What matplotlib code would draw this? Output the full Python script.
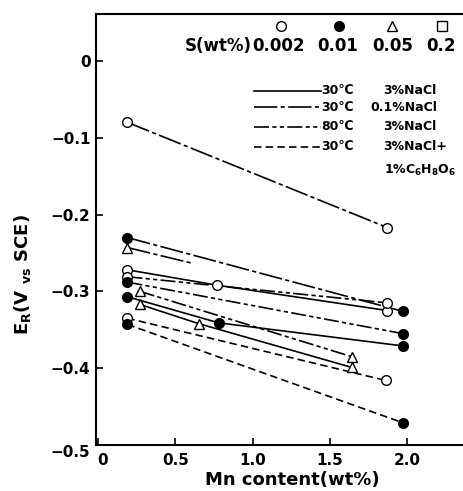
import matplotlib
matplotlib.use('Agg')

import matplotlib.pyplot as plt
from matplotlib.transforms import ScaledTranslation

plt.rcParams['font.family'] = ['DejaVu Sans']
plt.rcParams['font.weight'] = 'bold'
plt.rcParams['mathtext.fontset'] = 'custom'
plt.rcParams['mathtext.rm'] = 'DejaVu Sans:bold'
plt.rcParams['mathtext.it'] = 'DejaVu Sans:bold'
plt.rcParams['mathtext.default'] = 'rm'

# --- data: Mn content (wt%) vs rest potential E_R (V vs SCE)
# S = 0.002 wt% (open circles)
mn_o_30 = [0.19, 0.77, 1.87]
er_o_30 = [-0.272, -0.292, -0.325]
mn_o_01 = [0.19, 1.87]
er_o_01 = [-0.080, -0.217]
mn_o_80 = [0.19, 1.87]
er_o_80 = [-0.281, -0.315]
mn_o_vc = [0.19, 1.86]
er_o_vc = [-0.335, -0.416]

# S = 0.01 wt% (filled circles)
mn_f_30 = [0.19, 0.78, 1.97]
er_f_30 = [-0.307, -0.341, -0.371]
mn_f_01 = [0.19, 1.97]
er_f_01 = [-0.230, -0.326]
mn_f_80 = [0.19, 1.97]
er_f_80 = [-0.288, -0.355]
mn_f_vc = [0.19, 1.97]
er_f_vc = [-0.343, -0.471]

# S = 0.05 wt% (triangles)
mn_t_30 = [0.27, 0.65, 1.64]
er_t_30 = [-0.317, -0.342, -0.399]
mn_t_80 = [0.27, 1.64]
er_t_80 = [-0.300, -0.385]
mn_t_01 = [0.19, 0.60]          # line stops, only first point marked
er_t_01 = [-0.243, -0.263]

s_labels = ['0.002', '0.01', '0.05', '0.2']
s_markers = [('o', 'white'), ('o', 'black'), ('^', 'white'), ('s', 'white')]
conditions = [('30\u2103', '3%NaCl'), ('30\u2103', '0.1%NaCl'),
              ('80\u2103', '3%NaCl'), ('30\u2103', '3%NaCl+')]
extra_label = '1%C$_6$H$_8$O$_6$'

# line styles for the four test conditions
ls_30 = '-'
ls_01 = (0, (14, 2, 2.5, 2))
ls_80 = (0, (9, 2, 2.5, 2, 2.5, 2))
ls_vc = (0, (4.5, 2.5))
styles = [ls_30, ls_01, ls_80, ls_vc]

fig = plt.figure(figsize=(4.64, 4.91), dpi=100)
W, H = 464, 491
ax = fig.add_axes([96 / W, 1 - 445 / H, (W - 96) / W + 0.01, (445 - 14) / H])

lw = 1.2
ms = 7


def series(x, y, marker, face, ls, mark_last=True):
    ax.plot(x, y, color='black', lw=lw, ls=ls, zorder=2)
    xm = x if mark_last else x[:1]
    ym = y if mark_last else y[:1]
    ax.plot(xm, ym, ls='none', marker=marker, ms=ms, mfc=face, mec='black',
            mew=1.0, zorder=3)


series(mn_o_30, er_o_30, 'o', 'white', ls_30)
series(mn_o_01, er_o_01, 'o', 'white', ls_01)
series(mn_o_80, er_o_80, 'o', 'white', ls_80)
series(mn_o_vc, er_o_vc, 'o', 'white', ls_vc)
series(mn_f_30, er_f_30, 'o', 'black', ls_30)
series(mn_f_01, er_f_01, 'o', 'black', ls_01)
series(mn_f_80, er_f_80, 'o', 'black', ls_80)
series(mn_f_vc, er_f_vc, 'o', 'black', ls_vc)
series(mn_t_30, er_t_30, '^', 'white', ls_30)
series(mn_t_80, er_t_80, '^', 'white', ls_80)
series(mn_t_01, er_t_01, '^', 'white', ls_01, mark_last=False)

ax.set_xlim(-0.013, (W - 98) / 154.7 + 0.03)
ax.set_ylim(-0.5, 0.061)
ax.set_xticks([0, 0.5, 1.0, 1.5, 2.0])
ax.set_xticklabels(['0', '0.5', '1.0', '1.5', '2.0'])
ax.set_yticks([0, -0.1, -0.2, -0.3, -0.4, -0.5])
ax.set_yticklabels(['0', '\u22120.1', '\u22120.2', '\u22120.3', '\u22120.4', '\u22120.5'])
ax.tick_params(direction='in', length=5, width=1.2, labelsize=11, pad=4)
ax.tick_params(axis='x', pad=6)
for sp in ax.spines.values():
    sp.set_linewidth(1.5)
ax.spines['right'].set_visible(False)

# corner labels sit a little off their ticks in the original
lab0 = ax.xaxis.get_major_ticks()[0].label1
lab0.set_transform(lab0.get_transform() + ScaledTranslation(0.05, 0, fig.dpi_scale_trans))
lab5 = ax.yaxis.get_major_ticks()[-1].label1
lab5.set_transform(lab5.get_transform() + ScaledTranslation(0, -0.06, fig.dpi_scale_trans))

# axis titles
ax.text((290 - 96) / 368, (445 - 480) / 431, 'Mn content(wt%)', transform=ax.transAxes,
        ha='center', va='center', fontsize=13, fontweight='bold')
ax.text((23 - 96) / 368, (445 - 275) / 431, r'E$_\mathrm{R}$(V ${}_\mathrm{vs}$ SCE)',
        transform=ax.transAxes, rotation=90, ha='center', va='center',
        fontsize=13, fontweight='bold')

# sulfur header
hdr_marker_x = [279, 336, 388, 438]
hdr_text_x = [276, 335, 389, 437]
for lab, (mk, fc), mx, tx in zip(s_labels, s_markers, hdr_marker_x, hdr_text_x):
    ax.plot([(mx - 96) / 368], [(445 - 26) / 431], transform=ax.transAxes, marker=mk,
            ms=ms, mfc=fc, mec='black', mew=1.0, ls='none', clip_on=False)
    ax.text((tx - 96) / 368, (445 - 46) / 431, lab, transform=ax.transAxes,
            ha='center', va='center', fontsize=12, fontweight='bold')
ax.text((250 - 96) / 368, (445 - 46) / 431, 'S(wt%)', transform=ax.transAxes,
        ha='right', va='center', fontsize=12, fontweight='bold')

# line-style key
row_y = [90.7, 107.3, 127.0, 146.7]
sol_x = [380, 367, 380, 380]
for (temp, sol), ls, ry, sx in zip(conditions, styles, row_y, sol_x):
    fy = (445 - ry) / 431
    ax.plot([(252 - 96) / 368, (318 - 96) / 368], [fy, fy], transform=ax.transAxes,
            color='black', lw=lw, ls=ls)
    ax.text((318 - 96) / 368, fy, temp, transform=ax.transAxes, ha='left',
            va='center', fontsize=9, fontweight='bold')
    ax.text((sx - 96) / 368, fy, sol, transform=ax.transAxes, ha='left',
            va='center', fontsize=9, fontweight='bold')
ax.text((380 - 96) / 368, (445 - 170) / 431, extra_label, transform=ax.transAxes,
        ha='left', va='center', fontsize=9, fontweight='bold')

plt.savefig('out.png', dpi=100)
